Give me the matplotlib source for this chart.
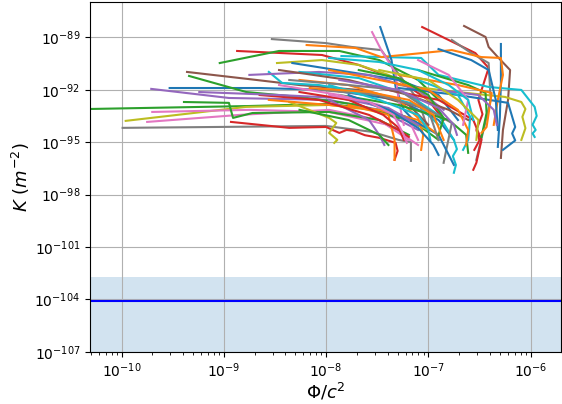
import numpy as np
import matplotlib
matplotlib.use("Agg")
import matplotlib.pyplot as plt

# log10 values: (log10 Phi/c^2, log10 K, colour)
curves = [
    ([-10.31, -8.75, -7.97, -7.48, -7.10, -6.90], [-93.10, -92.93, -92.81, -93.15, -94.01, -94.87], "C2"),
    ([-9.99, -8.00, -7.55, -7.29, -7.17, -7.17], [-94.18, -94.07, -94.41, -94.87, -95.0, -96.07], "C7"),
    ([-9.96, -8.78, -7.97, -7.39, -7.00], [-93.78, -92.98, -92.87, -93.27, -94.30], "C8"),
    ([-9.75, -8.85, -7.97, -7.48, -7.19], [-93.84, -93.44, -93.15, -93.73, -94.87], "C6"),
    ([-9.70, -8.75, -7.97, -7.39, -7.10], [-93.27, -93.15, -93.27, -94.01, -95.16], "C6"),
    ([-9.71, -8.95, -7.97, -7.48, -7.10], [-91.95, -92.47, -92.58, -93.15, -94.30], "C4"),
    ([-9.53, -8.65, -7.97, -7.29, -6.90, -6.75], [-91.90, -91.90, -92.01, -92.58, -93.73, -94.87], "C0"),
    ([-8.53, -8.00, -7.75, -7.46, -7.32, -7.10, -7.00], [-89.10, -89.33, -89.55, -89.73, -90.87, -92.58, -94.30], "C7"),
    ([-8.87, -8.04, -7.68, -7.29, -7.00, -6.85], [-89.78, -90.01, -90.58, -91.44, -92.58, -93.73], "C3"),
    ([-9.04, -8.46, -7.87, -7.48, -7.10, -6.90], [-90.47, -89.78, -89.78, -90.30, -91.44, -92.58], "C2"),
    ([-9.36, -8.68, -8.26, -7.68, -7.19, -7.00], [-90.98, -91.44, -91.73, -92.01, -92.87, -94.01], "C5"),
    ([-9.34, -8.78, -8.26, -7.68, -7.29], [-91.21, -92.13, -92.41, -92.87, -93.61], "C2"),
    ([-9.39, -8.95, -8.91, -8.72, -7.97, -7.48, -7.19], [-92.70, -92.75, -93.61, -93.33, -93.27, -93.73, -94.58], "C2"),
    ([-8.93, -8.36, -8.00, -7.87, -7.80, -7.73, -7.62, -7.48, -7.32, -7.30, -7.33],
     [-93.84, -94.18, -94.13, -94.47, -94.30, -94.35, -94.60, -94.75, -95.04, -95.50, -96.01], "C3"),
    ([-7.06, -6.54, -6.41, -6.51, -6.47, -6.53, -6.50, -6.55], [-88.41, -89.90, -90.75, -92.58, -93.40, -94.30, -94.90, -95.44], "C3"),
    ([-6.65, -6.44, -6.41, -6.32, -6.20, -6.22, -6.27, -6.29], [-88.35, -88.98, -89.55, -90.13, -90.87, -92.58, -94.30, -95.90], "C5"),
    ([-6.29, -6.29, -6.30, -6.32], [-89.38, -91.61, -93.55, -95.27], "C0"),
    ([-6.77, -6.58, -6.41, -6.39, -6.46, -6.53], [-89.15, -89.90, -90.47, -92.58, -94.30, -96.01], "C7"),
    ([-7.85, -7.07, -6.90, -6.41, -6.09, -5.96, -5.94, -5.98, -5.95, -5.98, -5.96],
     [-90.07, -90.18, -91.15, -91.84, -92.01, -92.98, -93.50, -94.00, -94.30, -94.50, -94.70], "C9"),
    ([-7.29, -6.71, -6.25, -6.09, -6.05, -6.08, -6.05, -6.09], [-91.73, -92.13, -92.41, -92.70, -93.10, -93.55, -94.20, -94.87], "C8"),
    ([-8.19, -7.71, -7.46, -6.77, -6.48, -6.29, -6.27, -6.32, -6.36], [-89.44, -89.61, -90.13, -89.73, -90.13, -90.18, -91.15, -92.58, -94.01], "C1"),
    ([-7.47, -7.36, -7.32, -7.24, -7.10], [-88.41, -90.30, -91.84, -93.15, -94.01], "C0"),
    ([-7.55, -7.46, -7.32, -7.29, -7.24], [-88.70, -89.73, -91.04, -92.58, -94.01], "C6"),
    ([-6.90, -6.58, -6.41, -6.34, -6.32], [-89.67, -90.30, -90.87, -92.58, -94.30], "C0"),
    ([-8.48, -8.04, -7.68, -7.39, -7.10, -6.90], [-90.47, -90.30, -90.58, -91.15, -92.01, -93.15], "C8"),
    ([-8.56, -8.43, -8.07, -7.48, -7.10, -6.90], [-90.98, -91.61, -91.73, -92.30, -92.87, -94.01], "C9"),
    ([-8.33, -7.78, -7.29, -6.90, -6.71], [-90.47, -90.98, -91.44, -92.30, -93.73], "C0"),
    ([-8.75, -8.07, -7.58, -7.10, -6.85], [-91.15, -90.98, -91.15, -92.01, -93.15], "C4"),
    ([-8.26, -7.78, -7.29, -7.10, -7.05, -7.07], [-91.44, -91.73, -92.58, -93.61, -94.58, -95.44], "C1"),
    ([-8.26, -7.68, -7.19, -6.90, -6.75, -6.72, -6.76, -6.73, -6.75], [-90.98, -91.33, -92.30, -93.44, -94.87, -95.40, -95.80, -96.30, -96.75], "C9"),
    ([-8.07, -7.48, -7.00, -6.77, -6.85], [-92.01, -92.30, -93.15, -93.90, -96.18], "C7"),
    ([-7.87, -7.29, -6.80, -6.63, -6.61], [-92.30, -92.87, -93.73, -94.58, -95.61], "C2"),
    ([-7.48, -6.90, -6.56, -6.48, -6.53, -6.56], [-91.90, -92.58, -93.73, -94.87, -96.18, -96.58], "C3"),
    ([-7.29, -6.71, -6.22, -6.15, -6.18, -6.15, -6.27], [-91.90, -92.30, -92.75, -94.13, -94.50, -94.90, -95.44], "C0"),
    ([-7.10, -6.61, -6.44, -6.43, -6.48], [-90.87, -91.73, -92.18, -93.33, -94.70], "C2"),
    ([-7.29, -6.71, -6.38, -6.43, -6.48], [-91.15, -91.73, -92.18, -94.13, -94.47], "C1"),
    ([-7.78, -7.39, -7.33, -7.33], [-92.87, -93.44, -94.87, -96.01], "C1"),
    ([-8.36, -7.97, -7.90, -7.97, -7.89, -7.92], [-92.70, -93.61, -93.90, -94.47, -94.87, -95.04], "C8"),
    ([-7.97, -7.58, -7.48, -7.43], [-92.58, -93.73, -94.58, -95.16], "C4"),
    ([-8.46, -7.87, -7.48, -7.19, -7.10], [-91.73, -92.30, -92.87, -93.73, -94.87], "C6"),
    ([-7.10, -6.71, -6.59, -6.61, -6.66], [-91.44, -92.30, -93.55, -94.87, -95.44], "C9"),
    ([-7.68, -7.19, -6.90, -6.80, -6.75], [-92.58, -93.61, -94.58, -95.73, -96.30], "C0"),
    ([-8.46, -7.78, -7.19, -6.80, -6.61], [-90.87, -91.44, -92.30, -93.15, -93.73], "C5"),
    ([-6.90, -6.51, -6.36, -6.33], [-92.01, -92.30, -93.15, -94.01], "C4"),
    ([-8.56, -7.97, -7.48, -7.10, -6.90], [-92.58, -92.87, -93.15, -93.73, -94.58], "C1"),
    ([-8.65, -8.07, -7.58, -7.29, -7.19], [-92.30, -92.58, -93.44, -94.30, -94.70], "C3"),
    ([-7.97, -7.48, -7.10, -7.00, -6.98], [-91.73, -92.58, -93.44, -94.30, -94.87], "C9"),
    ([-8.26, -7.78, -7.48, -7.39], [-93.15, -93.73, -94.58, -95.16], "C2"),
    ([-8.36, -7.78, -7.29, -7.00, -6.90], [-91.44, -91.73, -92.01, -93.15, -94.87], "C7"),
    ([-7.97, -7.48, -7.00, -6.71, -6.61, -6.63], [-90.87, -91.44, -92.01, -93.15, -94.30, -95.16], "C1"),
    ([-7.10, -6.80, -6.61, -6.66], [-90.30, -91.15, -92.58, -94.01], "C6"),
    ([-9.24, -8.46, -7.87, -7.39, -7.10], [-92.13, -92.30, -92.47, -93.04, -94.01], "C4"),
    ([-7.97, -7.48, -7.10, -6.80, -6.61, -6.56], [-90.18, -90.41, -90.87, -91.73, -92.58, -93.73], "C9"),
    ([-7.68, -7.29, -7.00, -6.85, -6.90], [-90.87, -91.33, -92.30, -93.61, -94.58], "C2"),
    ([-8.16, -7.58, -7.19, -6.95, -6.85], [-91.90, -92.13, -92.58, -93.44, -94.87], "C1"),
    ([-7.87, -7.29, -6.90, -6.75, -6.72], [-91.44, -92.01, -93.04, -94.01, -94.58], "C4"),
    ([-7.78, -7.39, -7.10, -6.95, -6.90], [-92.30, -93.15, -94.18, -95.16, -95.73], "C0"),
    ([-7.48, -7.00, -6.71, -6.51, -6.53], [-90.87, -91.44, -92.58, -93.73, -94.87], "C8"),
    ([-8.26, -7.78, -7.44, -7.29, -7.24], [-92.13, -92.58, -93.44, -94.18, -94.87], "C3"),
    ([-7.97, -7.58, -7.34, -7.24, -7.21], [-92.30, -92.70, -93.44, -94.58, -95.04], "C6"),
]

k_obs = 8e-105        # blue line
k_band = (1e-108, 2e-103)   # shaded region

fig = plt.figure(figsize=(5.62, 4.04), dpi=100)
ax = fig.add_axes([0.160, 0.129, 0.838, 0.866])

for lx, ly, c in curves:
    ax.plot(10.0 ** np.array(lx), 10.0 ** np.array(ly), color=c, lw=1.5)

ax.axhspan(k_band[0], k_band[1], color="C0", alpha=0.2, lw=0)
ax.axhline(k_obs, color="blue", lw=1.5)

ax.set_xscale("log")
ax.set_yscale("log")
ax.set_xlim(4.9e-11, 1.98e-6)
ax.set_ylim(1e-107, 1.05e-87)
ax.grid(True, color="#b0b0b0", lw=0.8)
ax.set_xlabel(r"$\Phi/c^2$", fontsize=13, labelpad=1)
ax.set_ylabel(r"$K\ (m^{-2})$", fontsize=13, labelpad=2)

fig.savefig("out.png", dpi=100)
